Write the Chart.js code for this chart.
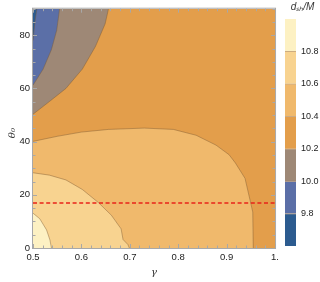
<!DOCTYPE html>
<html>
<head>
<meta charset="utf-8">
<script src="https://cdn.jsdelivr.net/npm/chart.js@4.4.1/dist/chart.umd.min.js"></script>
<style>
  html, body { margin: 0; padding: 0; background: #fff; }
  #wrap { position: relative; width: 320px; height: 282px; }
  #main { position: absolute; left: 0; top: 0; }
  #bar { position: absolute; left: 280px; top: 0; }
</style>
</head>
<body>
<div id="wrap">
  <canvas id="main" width="283" height="282"></canvas>
  <canvas id="bar" width="40" height="282"></canvas>
</div>
<script>
// contour levels (colour bar)
const levels = [9.6, 9.8, 10.0, 10.2, 10.4, 10.6, 10.8, 11.0];
const levelColors = ['#2c5b8f', '#5b6fa7', '#9e8876', '#e39e4b', '#f0b96c', '#f8d390', '#fdf1c3'];
const levelTicks = [9.8, 10.0, 10.2, 10.4, 10.6, 10.8];

// axes ticks
const xMajor = [0.5, 0.6, 0.7, 0.8, 0.9, 1.0];
const xMinor = [0.52, 0.54, 0.56, 0.58, 0.62, 0.64, 0.66, 0.68, 0.72, 0.74, 0.76, 0.78,
                0.82, 0.84, 0.86, 0.88, 0.92, 0.94, 0.96, 0.98];
const yMajor = [0, 20, 40, 60, 80];
const yMinor = [5, 10, 15, 25, 30, 35, 45, 50, 55, 65, 70, 75, 85, 90];

// contour boundaries (gamma, theta0)
const g108 = [0.5, 0.514, 0.528, 0.535, 0.538];
const t108 = [13.1, 11.0, 6.8, 3.0, 0];
const g106 = [0.5, 0.534, 0.568, 0.602, 0.635, 0.662, 0.682, 0.686, 0.696, 0.699];
const t106 = [28.3, 27.4, 25.6, 22.0, 17.1, 12.3, 7.2, 3.2, 1.3, 0];
const g104 = [0.5, 0.55, 0.6, 0.656, 0.73, 0.79, 0.837, 0.878, 0.905, 0.918, 0.938, 0.948, 0.954, 0.955];
const t104 = [40.1, 42.0, 43.6, 44.6, 45.1, 44.6, 42.4, 38.7, 35.1, 32.0, 26.2, 18.3, 13.5, 0];
const g102 = [0.5, 0.534, 0.568, 0.602, 0.629, 0.649, 0.656];
const t102 = [50.3, 55.1, 60.0, 67.3, 75.8, 84.3, 90];
const g100 = [0.5, 0.521, 0.538, 0.549, 0.555];
const t100 = [61.2, 67.3, 74.6, 81.9, 90];
const g098 = [0.5, 0.504, 0.508];
const t098 = [78, 85, 90];

// dashed reference line
const refTheta = 16.9;

const pts = (g, t) => g.map((v, i) => ({x: v, y: t[i]}));
const edge = 'rgba(125,90,50,0.55)';

function region(g, t, color, fill) {
  return {
    data: pts(g, t), showLine: true, pointRadius: 0,
    borderColor: edge, borderWidth: 0.8, backgroundColor: color, fill: fill
  };
}

const datasets = [
  { data: pts([0.5, 1.0], [refTheta, refTheta]), showLine: true, pointRadius: 0,
    borderColor: '#e8231a', borderWidth: 1.4, borderDash: [4, 2.6], fill: false },
  region(g098, t098, levelColors[0], 'end'),
  region(g100, t100, levelColors[1], 'end'),
  region(g102, t102, levelColors[2], 'end'),
  region(g108, t108, levelColors[6], 'start'),
  region(g106, t106, levelColors[5], 'start'),
  region(g104, t104, levelColors[4], 'start'),
  { data: pts([0.5, 1.0], [90, 90]), showLine: true, pointRadius: 0,
    borderWidth: 0, backgroundColor: levelColors[3], fill: 'start' }
];

const tickFont = { family: 'Liberation Sans, Arial, sans-serif', size: 9.5 };

// frame with inward ticks on all four sides
const frameTicks = {
  id: 'frameTicks',
  afterDatasetsDraw(chart) {
    const { ctx, chartArea: a, scales: { x, y } } = chart;
    ctx.save();
    ctx.strokeStyle = '#a8a8a8';
    ctx.lineWidth = 1;
    ctx.beginPath();
    const mark = (vals, len, horiz) => {
      vals.forEach(v => {
        if (horiz) {
          const px = Math.round(x.getPixelForValue(v)) + 0.5;
          ctx.moveTo(px, a.bottom); ctx.lineTo(px, a.bottom - len);
          ctx.moveTo(px, a.top); ctx.lineTo(px, a.top + len);
        } else {
          const py = Math.round(y.getPixelForValue(v)) + 0.5;
          ctx.moveTo(a.left, py); ctx.lineTo(a.left + len, py);
          ctx.moveTo(a.right, py); ctx.lineTo(a.right - len, py);
        }
      });
    };
    mark(xMajor, 4, true);
    mark(xMinor, 2.5, true);
    mark(yMajor, 4, false);
    mark(yMinor, 2.5, false);
    ctx.stroke();
    ctx.strokeRect(a.left - 0.5, a.top - 0.5, a.right - a.left + 1, a.bottom - a.top + 1);
    ctx.restore();
  }
};

new Chart(document.getElementById('main'), {
  type: 'scatter',
  data: { datasets },
  plugins: [frameTicks],
  options: {
    responsive: false, animation: false, devicePixelRatio: 1,
    layout: { padding: { top: 1, right: 2.5, left: 0, bottom: 0 } },
    plugins: { legend: { display: false }, tooltip: { enabled: false } },
    scales: {
      x: {
        type: 'linear', min: 0.5, max: 1.0,
        afterFit: s => { s.height = 34; },
        grid: { display: false, drawTicks: false }, border: { display: false },
        ticks: {
          stepSize: 0.1, includeBounds: false, maxRotation: 0, padding: 4,
          color: '#222', font: tickFont,
          callback: v => Math.abs(v - 1) < 1e-9 ? '1.' : v.toFixed(1)
        },
        title: { display: true, text: 'γ', color: '#333', padding: { top: 0, bottom: 4 },
                 font: { family: 'DejaVu Serif, serif', size: 10, style: 'italic' } }
      },
      y: {
        type: 'linear', min: 0, max: 90,
        afterFit: s => { s.width = 33; },
        grid: { display: false, drawTicks: false }, border: { display: false },
        ticks: { stepSize: 20, includeBounds: false, padding: 3, color: '#222', font: tickFont },
        title: { display: true, text: 'θ₀   ', color: '#333', padding: { top: 6, bottom: 0 },
                 font: { family: 'DejaVu Serif, serif', size: 10, style: 'italic' } }
      }
    }
  }
});

// colour bar
const barSets = levelColors.map((c, i) => ({
  data: [[levels[i], levels[i + 1]]],
  backgroundColor: c,
  borderColor: i === levelColors.length - 1 ? c : 'rgba(170,120,60,0.6)',
  borderWidth: { top: 1, bottom: 0, left: 0, right: 0 },
  borderSkipped: false,
  barPercentage: 1, categoryPercentage: 1, grouped: false
}));

new Chart(document.getElementById('bar'), {
  type: 'bar',
  data: { labels: [''], datasets: barSets },
  options: {
    responsive: false, animation: false, devicePixelRatio: 1,
    layout: { padding: { top: 0, left: 5, right: 0, bottom: 36 } },
    plugins: {
      legend: { display: false }, tooltip: { enabled: false },
      title: { display: true, text: 'dₛₕ/M', color: '#333',
               padding: { top: 1, bottom: 6 },
               font: { family: 'Liberation Sans, Arial, sans-serif', size: 10, style: 'italic', weight: 'normal' } }
    },
    scales: {
      x: { display: false },
      y: {
        position: 'right', min: 9.6, max: 11.0,
        afterFit: s => { s.width = 24; },
        grid: { display: false, drawTicks: false }, border: { display: false },
        afterBuildTicks: s => { s.ticks = levelTicks.map(v => ({ value: v })); },
        ticks: { padding: 5, color: '#222', font: { family: 'Liberation Sans, Arial, sans-serif', size: 9 },
                 callback: v => v.toFixed(1) }
      }
    }
  }
});
</script>
</body>
</html>
